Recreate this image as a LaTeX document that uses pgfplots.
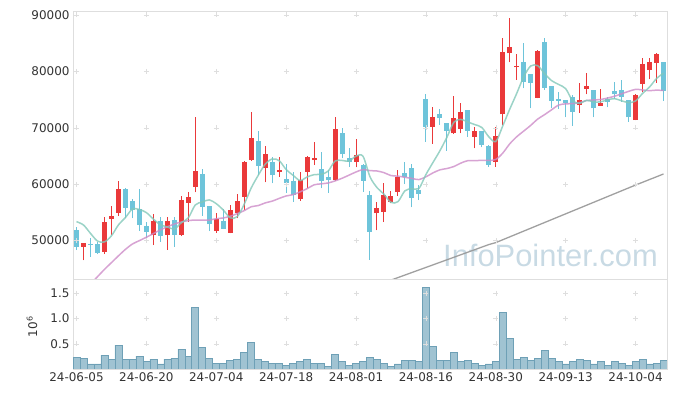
\documentclass[border=0pt]{standalone}
\usepackage{fontspec}
\setmainfont{DejaVu Sans}
\newfontfamily\wmfont{Liberation Sans}
\usepackage{pgfplots}
\usepackage{pgfplotstable}
\pgfplotsset{compat=1.18}

\definecolor{upred}{RGB}{234,57,58}
\definecolor{downblue}{RGB}{110,196,218}
\definecolor{mafive}{RGB}{130,200,185}
\definecolor{matwenty}{RGB}{205,140,200}
\definecolor{masixty}{RGB}{150,150,150}
\definecolor{volfill}{RGB}{155,192,208}
\definecolor{voledge}{RGB}{110,160,182}
\definecolor{gridc}{RGB}{222,222,222}
\definecolor{wm}{RGB}{200,218,228}
\definecolor{lbl}{RGB}{51,51,51}

\pgfplotstableread{
i O H L C
1 48930 49640 46500 49520
4 48040 54250 47630 53240
5 53890 56200 51000 54360
6 54950 60570 54360 59150
11 51050 54720 49220 53420
13 51050 54250 48340 53420
15 51000 57900 50800 57200
16 56730 58560 53360 57670
17 59560 71980 58560 62340
20 51700 54840 51410 53830
22 51410 56310 51300 55430
23 54840 58200 53950 57020
24 57790 64110 55430 63940
25 64290 72860 64100 68190
27 62810 66770 60330 65360
29 62220 64880 61340 62520
32 57320 62220 57100 60750
33 62220 65060 59270 64770
34 64290 67540 63400 64590
37 60750 71860 60500 69790
40 64000 67960 62990 65060
43 54840 56800 51800 55750
44 55130 60160 53300 58090
45 56900 58860 56610 57850
46 58680 62500 57910 61250
51 70200 73750 67130 71860
54 69020 75640 68900 71680
55 69790 74340 69020 72740
57 68430 70200 66360 69430
60 64000 70200 63100 68490
61 72390 85860 70500 83380
62 83200 89410 81610 84270
63 80720 83030 78480 80960
66 75340 83790 75200 83620
72 73980 77880 72680 74870
73 76880 79660 75930 77410
75 73930 76820 73900 74400
80 71380 75900 71300 75820
81 77770 82320 76290 81310
82 80250 82440 78590 81610
83 81550 83320 78000 83030
}\uptab

\pgfplotstableread{
i O H L C
0 51880 52350 48330 48930
2 49400 50400 47150 49300
3 49400 49810 47630 47860
7 59150 59300 54070 55840
8 57020 57320 53950 55430
9 55600 59090 51760 52830
10 52590 53360 50520 51590
12 53420 54130 49810 50880
14 53600 54200 48900 51000
18 61810 62700 54420 56020
19 56020 56100 51700 52890
21 53360 55600 52060 52060
26 67660 69430 61630 63230
28 63880 64880 60160 61630
30 60860 63520 58500 60270
31 60570 62220 56900 58090
35 62640 65770 59270 60630
36 61220 62520 58500 60750
38 69020 69910 64590 65300
39 64590 66360 63110 64000
41 63400 63500 58680 60630
42 58090 58860 46600 51590
47 61930 63900 60000 61220
48 62810 63520 55900 57610
49 58970 59860 57200 58260
50 75110 75930 67540 70200
52 72420 73300 70500 71680
53 70790 70900 65890 69490
56 73160 73200 68430 69490
58 69430 69500 66540 66950
59 66800 66900 63110 63450
64 81610 84980 77000 78180
65 79480 79500 73450 78000
67 85100 85860 76700 77120
68 77410 77450 73450 74810
69 75110 76410 73330 74810
70 74930 75000 71860 74340
71 75400 75820 70320 72860
74 76700 76750 71860 73450
76 75050 75520 73630 74630
77 76410 78060 75050 75930
78 76700 78480 74630 75520
79 74930 75000 71090 71860
84 81610 81650 74810 76580
}\downtab

\pgfplotstableread{
i v
0 53360
1 52770
2 51290
3 49930
4 49770
5 50856
6 52782
7 54090
8 55604
9 55522
10 54968
11 53822
12 52830
13 52428
14 52062
15 53184
16 54034
17 56326
18 56846
19 57224
20 56550
21 55428
22 54046
23 54246
24 56456
25 59328
26 61562
27 63548
28 64470
29 64186
30 62602
31 61574
32 60652
33 61280
34 61694
35 61766
36 62298
37 64106
38 64212
39 64094
40 64980
41 64956
42 61316
43 59406
44 58224
45 56782
46 56906
47 58832
48 59204
49 59238
50 61708
51 63830
52 65922
53 68298
54 70982
55 71490
56 71016
57 70566
58 70058
59 68412
60 67562
61 70340
62 73308
63 76110
64 79056
65 80958
66 81006
67 79576
68 78346
69 77672
70 76940
71 74788
72 74338
73 74858
74 74586
75 74598
76 74952
77 75164
78 74786
79 74468
80 74752
81 76088
82 77224
83 78726
84 79670
}\mafivetab

\pgfplotstableread{
i v
2 42300
3 43600
4 44900
5 46100
6 47300
7 48450
8 49400
9 50000
10 50600
11 51250
12 51900
13 52450
14 52950
15 53300
16 53550
17 53650
18 53650
19 53645
20 53890
21 54017
22 54323
23 54781
24 55316
25 56008
26 56212
27 56688
28 56998
29 57482
30 57916
31 58150
32 58643
33 59211
34 59890
35 60062
36 60216
37 60588
38 61052
39 61608
40 62169
41 62598
42 62406
43 62342
44 62050
45 61533
46 61434
47 61227
48 61026
49 60813
50 61309
51 61998
52 62544
53 62780
54 63135
55 63740
56 64177
57 64159
58 64242
59 64214
60 64386
61 65523
62 67157
63 68418
64 69422
65 70430
66 71548
67 72343
68 73203
69 74031
70 74238
71 74288
72 74447
73 74843
74 74932
75 75015
76 75272
77 75597
78 76025
79 76446
80 76812
81 76709
82 76576
83 76679
84 76599
}\matwentytab

\pgfplotstableread{
i v
45 43000
46 43450
47 43900
48 44350
49 44800
50 45250
51 45700
52 46150
53 46600
54 47050
55 47500
56 47950
57 48400
58 48850
59 49300
60 49650
61 50160
62 50670
63 51180
64 51690
65 52200
66 52710
67 53220
68 53730
69 54240
70 54750
71 55260
72 55770
73 56280
74 56790
75 57300
76 57810
77 58320
78 58830
79 59340
80 59850
81 60340
82 60830
83 61320
84 61810
}\masixtytab

\pgfplotstableread{
i v
0 0.237
1 0.217
2 0.099
3 0.099
4 0.276
5 0.197
6 0.474
7 0.184
8 0.184
9 0.257
10 0.145
11 0.197
12 0.099
13 0.197
14 0.217
15 0.395
16 0.257
17 1.224
18 0.434
19 0.217
20 0.118
21 0.118
22 0.164
23 0.184
24 0.322
25 0.533
26 0.197
27 0.145
28 0.118
29 0.118
30 0.079
31 0.118
32 0.145
33 0.184
34 0.118
35 0.118
36 0.059
37 0.296
38 0.145
39 0.079
40 0.118
41 0.145
42 0.237
43 0.184
44 0.118
45 0.059
46 0.099
47 0.164
48 0.164
49 0.145
50 1.618
51 0.454
52 0.164
53 0.164
54 0.336
55 0.145
56 0.164
57 0.118
58 0.079
59 0.099
60 0.145
61 1.125
62 0.612
63 0.184
64 0.237
65 0.164
66 0.217
67 0.375
68 0.217
69 0.145
70 0.099
71 0.145
72 0.197
73 0.164
74 0.099
75 0.145
76 0.079
77 0.145
78 0.118
79 0.079
80 0.145
81 0.197
82 0.099
83 0.118
84 0.164
}\voltab

\pgfplotsset{
  chartbase/.style={
    scale only axis, width=594bp,
    xmin=-0.5, xmax=84.5,
    xtick={0,10,20,30,40,50,60,70,80},
    major tick length=0pt,
    axis line style={draw=gridc},
    tick label style={font=\fontsize{12}{14}\selectfont, text=lbl},
    /pgf/number format/assume math mode=true,
    scaled y ticks=false,
    clip=true,
  },
  candle/.style n args={2}{draw=none, mark=none, forget plot,
    error bars/.cd, y dir=plus, y explicit, error mark=none,
    error bar style={line width=#1, draw=#2}},
}

\begin{document}
\begin{tikzpicture}
\path[use as bounding box] (0bp,0bp) rectangle (677bp,397bp);
\node[anchor=base west, inner sep=0pt, text=wm, font=\wmfont\fontsize{31}{31}\selectfont] at (443bp,130bp) {InfoPointer.com};

\begin{axis}[chartbase,
  at={(73bp,118bp)}, anchor=south west, height=268bp,
  ymin=43200, ymax=90700,
  xticklabels={},
  ytick={50000,60000,70000,80000,90000},
  yticklabel style={/pgf/number format/.cd, fixed, 1000 sep={}},
]
\pgfplotsinvokeforeach{0,10,20,30,40,50,60,70,80}{
  \addplot[only marks, mark=+, mark size=2.5bp, color=gridc, forget plot] coordinates {(#1,50000) (#1,60000) (#1,70000) (#1,80000) (#1,90000)};
}
% wicks
\addplot[candle={1bp}{upred}]
  table[x=i, y=L, y error expr=\thisrow{H}-\thisrow{L}] {\uptab};
\addplot[candle={1bp}{downblue}]
  table[x=i, y=L, y error expr=\thisrow{H}-\thisrow{L}] {\downtab};
% bodies
\addplot[candle={5bp}{upred}]
  table[x=i, y=O, y error expr=\thisrow{C}-\thisrow{O}+60] {\uptab};
\addplot[candle={5bp}{downblue}]
  table[x=i, y=C, y error expr=\thisrow{O}-\thisrow{C}+60] {\downtab};
% moving averages
\addplot[masixty, line width=1.3bp, opacity=0.9] table[x=i, y=v] {\masixtytab};
\addplot[matwenty, line width=1.5bp, opacity=0.8, smooth] table[x=i, y=v] {\matwentytab};
\addplot[mafive, line width=1.5bp, opacity=0.8, smooth] table[x=i, y=v] {\mafivetab};
\end{axis}

\begin{axis}[chartbase,
  at={(73bp,28bp)}, anchor=south west, height=90bp,
  ymin=0, ymax=1.78,
  xticklabels={24-06-05,24-06-20,24-07-04,24-07-18,24-08-01,24-08-16,24-08-30,24-09-13,24-10-04},
  ytick={0.5,1,1.5},
  yticklabel style={/pgf/number format/.cd, fixed, fixed zerofill, precision=1},
  ylabel={10\textsuperscript{6}},
  ylabel style={font=\fontsize{12}{14}\selectfont, text=lbl, at={(axis description cs:-0.069,0.47)}, anchor=center},
]
\pgfplotsinvokeforeach{0,10,20,30,40,50,60,70,80}{
  \addplot[only marks, mark=+, mark size=2.5bp, color=gridc, forget plot] coordinates {(#1,0.5) (#1,1.0) (#1,1.5)};
}
\addplot[ybar, bar width=1, bar shift=0pt, fill=volfill, fill opacity=0.95, draw=voledge, line width=0.6bp] table[x=i, y=v] {\voltab};
\end{axis}
\end{tikzpicture}
\end{document}
